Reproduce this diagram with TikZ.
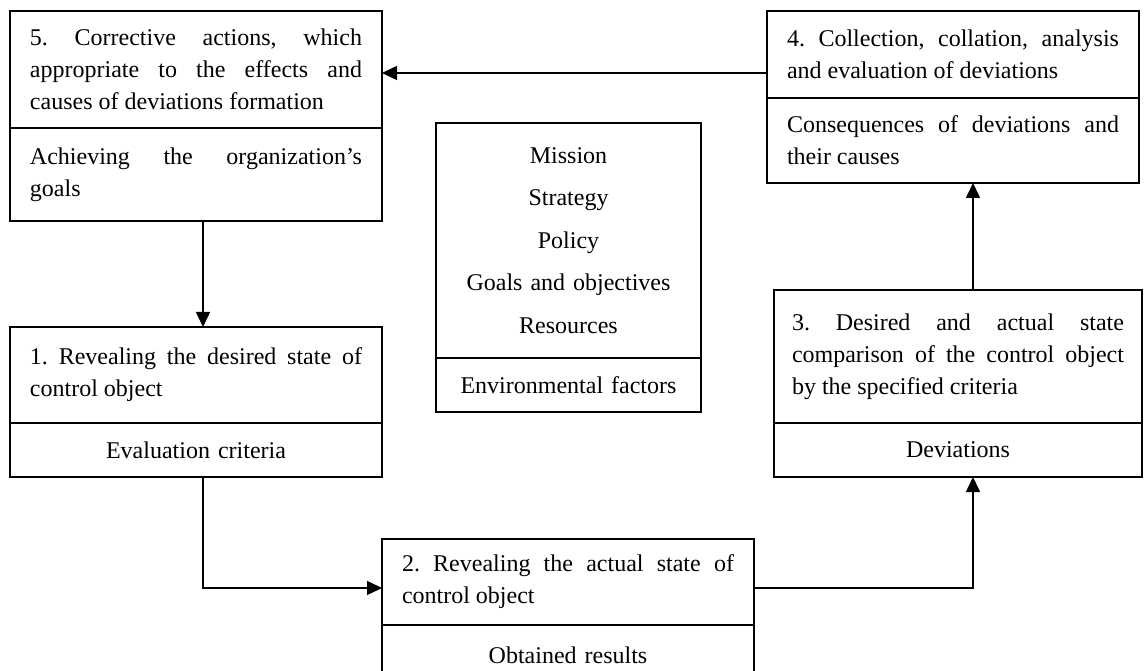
\documentclass[tikz,border=0pt]{standalone}
\usepackage{fontspec}
\setmainfont{Liberation Serif}
\usetikzlibrary{positioning,arrows.meta}

\newcommand{\boxfont}{\fontsize{24}{32}\selectfont\frenchspacing
  \tolerance=10000 \hyphenpenalty=10000 }
\newcommand{\listfont}{\fontsize{24}{42.5}\selectfont}

\begin{document}
\begin{tikzpicture}
[x=1pt,y=-1pt,
  boxdecorate/.style={draw,line width=1.5pt,outer sep=0pt,anchor=north west,
    inner xsep=20pt,inner ysep=0pt,text width=332pt,align=justify,font=\boxfont},%
  partcenter/.style={boxdecorate,align=center},%
  listdecorate/.style={boxdecorate,inner xsep=10pt,text width=245pt,align=center},%
  linedecorate/.style={line width=1.5pt,-{Triangle[length=15pt,width=14pt]}}]
\path[use as bounding box,clip] (0,0) rectangle (1144,671);
%% upper parts of the boxes
\node (b5top) at (10,11) [boxdecorate,minimum height=117pt]
  {5. Corrective actions, which\linebreak appropriate to the effects and\linebreak
   causes of deviations formation};
\node (b4top) at (767,11) [boxdecorate,minimum height=87pt]
  {4. Collection, collation, analysis\linebreak and evaluation of deviations};
\node (ctop) at (436,123) [listdecorate,minimum height=235pt,font=\listfont]
  {Mission\\ Strategy\\ Policy\\ Goals and objectives\\ Resources};
\node (b1top) at (10,327) [boxdecorate,minimum height=96pt]
  {1. Revealing the desired state of\linebreak control object};
\node (b3top) at (774,290) [boxdecorate,inner xsep=18pt,minimum height=133pt]
  {3. Desired and actual state\linebreak comparison of the control object\linebreak
   by the specified criteria};
\node (b2top) at (382,539) [boxdecorate,minimum height=86pt]
  {2. Revealing the actual state of\linebreak control object};
%% lower parts
\node (b5bot) [boxdecorate,minimum height=93pt,below=0pt of b5top]
  {Achieving the organization’s\linebreak goals};
\node (b4bot) [boxdecorate,minimum height=85pt,below=0pt of b4top]
  {Consequences of deviations and\linebreak their causes};
\node (cbot) [listdecorate,minimum height=54pt,below=0pt of ctop]
  {Environmental factors};
\node (b1bot) [partcenter,minimum height=54pt,below=0pt of b1top]
  {Evaluation criteria};
\node (b3bot) [partcenter,inner xsep=18pt,minimum height=54pt,below=0pt of b3top]
  {Deviations};
\node (b2bot) [partcenter,minimum height=60pt,below=0pt of b2top]
  {Obtained results};
%% arrows
\coordinate (lx) at (203,0);
\coordinate (rx) at (973,0);
\coordinate (ry) at (0,588);
\coordinate (ay) at (0,73);
\draw[linedecorate] (b4top.west |- ay) -- (b5top.east |- ay);
\draw[linedecorate] (b5bot.south -| lx) -- (b1top.north -| lx);
\draw[linedecorate] (b1bot.south -| lx) |- (b2top.west |- ry);
\draw[linedecorate] (b2top.east |- ry) -| (b3bot.south -| rx);
\draw[linedecorate] (b3top.north -| rx) -- (b4bot.south -| rx);
\end{tikzpicture}
\end{document}
